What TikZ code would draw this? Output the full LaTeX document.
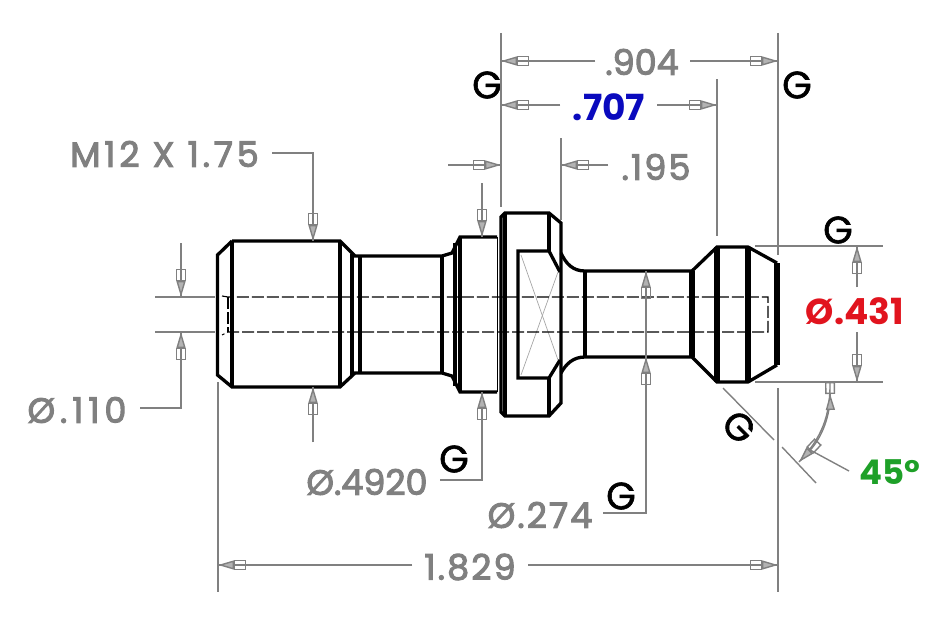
\documentclass[tikz,border=0pt]{standalone}
\usepackage{fontspec}
\setmainfont{Poppins}
\usetikzlibrary{arrows.meta}
\definecolor{dimgray}{RGB}{128,128,128}
\definecolor{dimblue}{RGB}{10,10,190}
\definecolor{dimred}{RGB}{225,20,30}
\definecolor{dimgreen}{RGB}{30,160,40}
\newcommand{\dimtip}{Rectangle[open,length=12pt,width=10pt,line width=1.4pt]Triangle[length=16pt,width=9pt,fill=dimgray!60,line width=1.4pt]}
\newcommand{\dimfont}[1]{\fontsize{35}{36}\selectfont\addfontfeature{FakeBold=3,LetterSpace=#1}}
\tikzstyle{part}=[draw=black, line width=3.3pt, line join=miter]
\tikzstyle{heavy}=[part, line width=5.4pt]
\tikzstyle{hidden}=[draw=black, line width=1.1pt, dash pattern=on 12pt off 3pt]
\tikzstyle{dimline}=[draw=dimgray, line width=1.4pt]
\tikzstyle{thinline}=[draw=dimgray!70, line width=0.7pt]
\tikzstyle{dimend}=[dimline, postaction={draw, -{\dimtip}}]
\tikzstyle{dimboth}=[dimline, postaction={draw, {\dimtip}-{\dimtip}}]
\tikzstyle{dimtext}=[text=dimgray, font=\dimfont{0}, inner sep=0]
\tikzstyle{widetext}=[dimtext, font=\dimfont{6}]
\tikzstyle{boldtext}=[dimtext, font=\fontsize{36}{36}\selectfont\bfseries]
\tikzstyle{gmark}=[text=black, font=\fontsize{38}{38}\selectfont\addfontfeature{FakeBold=1.5}, inner sep=0]
\begin{document}
\begin{tikzpicture}[x=1pt, y=-1pt]
    \useasboundingbox (0, 0) rectangle (926, 626);
    % labels
    \node[dimtext] (D904) at (642, 62) {.904};
    \node[boldtext, text=dimblue] (D707) at (609, 107) {.707};
    \node[widetext] (D195) at (656, 167) {.195};
    \node[dimtext, font=\dimfont{11}, anchor=east] (M12) at (259, 154) {M12 X 1.75};
    \node[dimtext, font=\dimfont{14}] (D110) at (77, 410) {Ø.110};
    \node[dimtext] (D4920) at (367, 482) {Ø.4920};
    \node[widetext] (D274) at (540, 515) {Ø.274};
    \node[widetext] (D1829) at (470, 567) {1.829};
    \node[boldtext, text=dimred] (D431) at (855, 311) {Ø.431};
    \node[boldtext, text=dimgreen, font=\fontsize{34}{36}\selectfont\bfseries] (A45) at (890, 472) {45°};
    \node[gmark] (G1) at (487, 85) {G};
    \node[gmark] (G2) at (797, 85) {G};
    \node[gmark] (G3) at (838, 230) {G};
    \node[gmark, rotate=-45] (G4) at (739, 427) {G};
    \node[gmark] (G5) at (454, 459) {G};
    \node[gmark] (G6) at (621, 496) {G};
    % free ends of the dimensions
    \coordinate (Ea) at (501, 61);
    \coordinate (Eb) at (778, 61);
    \coordinate (Ec) at (501, 105);
    \coordinate (Ed) at (717, 105);
    \coordinate (Ee) at (448, 165);
    \coordinate (Ef) at (501, 165);
    \coordinate (Eg) at (561, 165);
    \coordinate (Eh) at (218, 565);
    \coordinate (Ei) at (778, 565);
    \coordinate (Ej) at (857, 246);
    \coordinate (Ek) at (857, 382);
    \coordinate (El) at (830, 382);
    \coordinate (Em) at (799, 462);
    % part outline
    \draw[part] (232, 241) -- (217.5, 255) -- (217.5, 375) -- (232, 387) -- (340, 387) -- (355, 373) -- (442, 373) -- (452, 376) -- (460, 392) -- (497, 392);
    \draw[part] (232, 241) -- (340, 241) -- (355, 256) -- (442, 256) -- (452, 253) -- (460, 237) -- (497, 237);
    \draw[part] (232, 241) -- (232, 387);
    \draw[part] (340, 241) -- (340, 387);
    \draw[part] (352, 254) -- (352, 376);
    \draw[part] (360, 256) -- (360, 373);
    \draw[part] (442, 256) -- (442, 373);
    \draw[part] (455, 243) -- (455, 386);
    \draw[part] (460, 237) -- (460, 392);
    \draw[draw=black, line width=1pt] (497, 237) -- (497, 392);
    \draw[part] (501, 217) -- (505, 213) -- (549, 213) -- (561, 223) -- (561, 403) -- (549, 416) -- (505, 416) -- (501, 412) -- cycle;
    \draw[part] (505, 213) -- (505, 416);
    \draw[part] (549, 213) -- (549, 251);
    \draw[part] (549, 378) -- (549, 416);
    \draw[part] (549, 251) -- (518, 251) -- (518, 378) -- (549, 378) -- (560, 360);
    \draw[part] (549, 251) -- (560, 272);
    \draw[thinline] (521, 255) -- (558, 360);
    \draw[thinline] (521, 375) -- (558, 272);
    \draw[part] (561, 253) .. controls (566, 264) and (573, 271) .. (585, 271) -- (692, 271) -- (717, 247) -- (748, 247) -- (777, 263);
    \draw[part] (561, 373) .. controls (566, 364) and (573, 357) .. (585, 357) -- (692, 357) -- (717, 382) -- (748, 382) -- (777, 365);
    \draw[part] (585, 271) -- (585, 357);
    \draw[heavy] (692, 271) -- (692, 357);
    \draw[heavy] (717, 247) -- (717, 382);
    \draw[heavy] (748, 247) -- (748, 382);
    \draw[heavy] (777, 263) -- (777, 365);
    % hidden lines of the bore
    \draw[hidden] (222, 296) -- (228, 297) -- (768, 297) -- (768, 332) -- (228, 332) -- (222, 335);
    \draw[hidden] (228, 297) -- (228, 332);
    % extension lines
    \draw[dimline] (155, 297) -- (215, 297);
    \draw[dimline] (155, 332) -- (215, 332);
    \draw[dimline] (501, 33) -- (501, 207);
    \draw[dimline] (778, 33) -- (778, 255);
    \draw[dimline] (778, 388) -- (778, 592);
    \draw[dimline] (717, 79) -- (717, 236);
    \draw[dimline] (561, 138) -- (561, 220);
    \draw[dimline] (218, 382) -- (218, 592);
    \draw[dimline] (755, 246) -- (883, 246);
    \draw[dimline] (755, 382) -- (883, 382);
    \draw[dimline] (723, 388) -- (774, 440);
    \draw[dimline] (782, 447) -- (816, 483);
    % dimensions
    \draw[dimend] (595, 61) -- (Ea);
    \draw[dimend] (690, 61) -- (Eb);
    \draw[dimend] (560, 105) -- (Ec);
    \draw[dimend] (657, 105) -- (Ed);
    \draw[dimend] (Ee) -- (Ef);
    \draw[dimend] (608, 165) -- (Eg);
    \draw[dimend] (272, 153) -- (313, 153) -- (313, 241);
    \draw[dimend] (313, 442) -- (313, 387);
    \draw[dimend] (482, 183) -- (482, 237);
    \draw[dimend] (440, 480) -- (482, 480) -- (482, 392);
    \draw[dimend] (181, 243) -- (181, 297);
    \draw[dimend] (140, 408) -- (181, 408) -- (181, 332);
    \draw[dimend] (603, 513) -- (646, 513) -- (646, 357);
    \draw[dimend] (646, 357) -- (646, 271);
    \draw[dimend] (412, 565) -- (Eh);
    \draw[dimend] (528, 565) -- (Ei);
    \draw[dimend] (857, 287) -- (Ej);
    \draw[dimend] (857, 332) -- (Ek);
    \draw[dimboth] (El) to[bend left=22] (Em);
    \draw[dimline] (849, 471) -- (812, 451);
\end{tikzpicture}
\end{document}
